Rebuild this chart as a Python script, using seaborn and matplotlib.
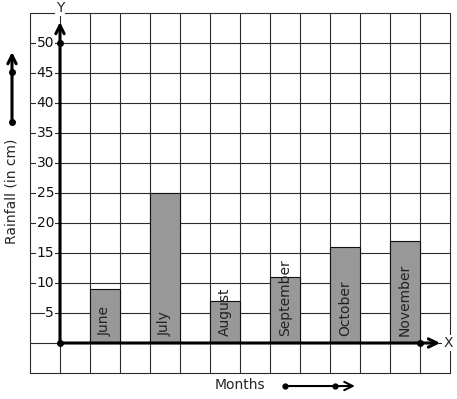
import numpy as np
import pandas as pd
import seaborn as sns
import matplotlib

matplotlib.use("Agg")
import matplotlib.pyplot as plt

# Data.
months = ["June", "July", "August", "September", "October", "November"]
rainfall = [9, 25, 7, 11, 16, 17]
y_ticks = [5, 10, 15, 20, 25, 30, 35, 40, 45, 50]

# Grid cells: one column = 1 x unit, one row = 5 cm.
df = pd.DataFrame({"month": months, "rainfall": rainfall})
df["pos"] = [2 * i + 1.5 for i in range(len(months))]

sns.set_style("white")
plt.rcParams["font.family"] = ["DejaVu Sans"]

fig = plt.figure(figsize=(4.57, 3.99), dpi=100)
ax = fig.add_axes([0, 0, 1, 1])
ax.set_xlim(-2, 457 / 30 - 2)
ax.set_ylim(-56 / 6, 343 / 6)
ax.set_axis_off()

# Square grid.
grid_kw = dict(color="#2b2b2b", lw=0.8, zorder=1)
for gx in range(-1, 14):
    ax.plot([gx, gx], [-5, 55], **grid_kw)
for gy in range(-5, 56, 5):
    ax.plot([-1, 13], [gy, gy], **grid_kw)

sns.barplot(
    data=df,
    x="pos",
    y="rainfall",
    native_scale=True,
    width=0.5,
    color="#989898",
    saturation=1,
    edgecolor="#111111",
    linewidth=0.8,
    ax=ax,
    zorder=2,
)
ax.set_xlim(-2, 457 / 30 - 2)
ax.set_ylim(-56 / 6, 343 / 6)
ax.set_axis_off()

for _, row in df.iterrows():
    ax.text(row["pos"], 1.2, row["month"], rotation=90, ha="center",
            va="bottom", fontsize=10, color="#222222", zorder=5)

# Tick labels sitting on the grid lines.
for t in y_ticks:
    ax.text(-0.2, t, str(t), ha="right", va="center", fontsize=10,
            color="#111111", zorder=4,
            bbox=dict(facecolor="white", edgecolor="none", pad=0.5))

# Axes with arrows.
arrow_kw = dict(arrowstyle="->,head_length=0.6,head_width=0.3", lw=2.2,
                color="black", shrinkA=0, shrinkB=0)
ax.annotate("", xy=(0, 53.5), xytext=(0, 0), arrowprops=arrow_kw, zorder=6)
ax.annotate("", xy=(12.67, 0), xytext=(0, 0), arrowprops=arrow_kw, zorder=6)
ax.plot([0, 0, 12], [0, 50, 0], "o", color="black", ms=4, zorder=7)
ax.text(0, 55.8, "Y", ha="center", va="center", fontsize=10, zorder=6,
        bbox=dict(facecolor="white", edgecolor="none", pad=0.5))
ax.text(12.93, 0, "X", ha="center", va="center", fontsize=10, zorder=6,
        bbox=dict(facecolor="white", edgecolor="none", pad=0.5))

# Axis titles with their little arrows.
ax.text(-1.6, 25.3, "Rainfall (in cm)", rotation=90, ha="center",
        va="center", fontsize=10)
ax.annotate("", xy=(-1.6, 48.5), xytext=(-1.6, 36.8), arrowprops=arrow_kw)
ax.plot([-1.6, -1.6], [36.8, 45.2], "o", color="black", ms=4)

ax.text(6, -7, "Months", ha="center", va="center", fontsize=10)
small_kw = dict(arrow_kw, lw=1.5)
ax.annotate("", xy=(9.83, -7.17), xytext=(7.5, -7.17), arrowprops=small_kw)
ax.plot([7.5, 9.17], [-7.17, -7.17], "o", color="black", ms=3.5)

fig.savefig("out.png", dpi=100)
plt.close()
